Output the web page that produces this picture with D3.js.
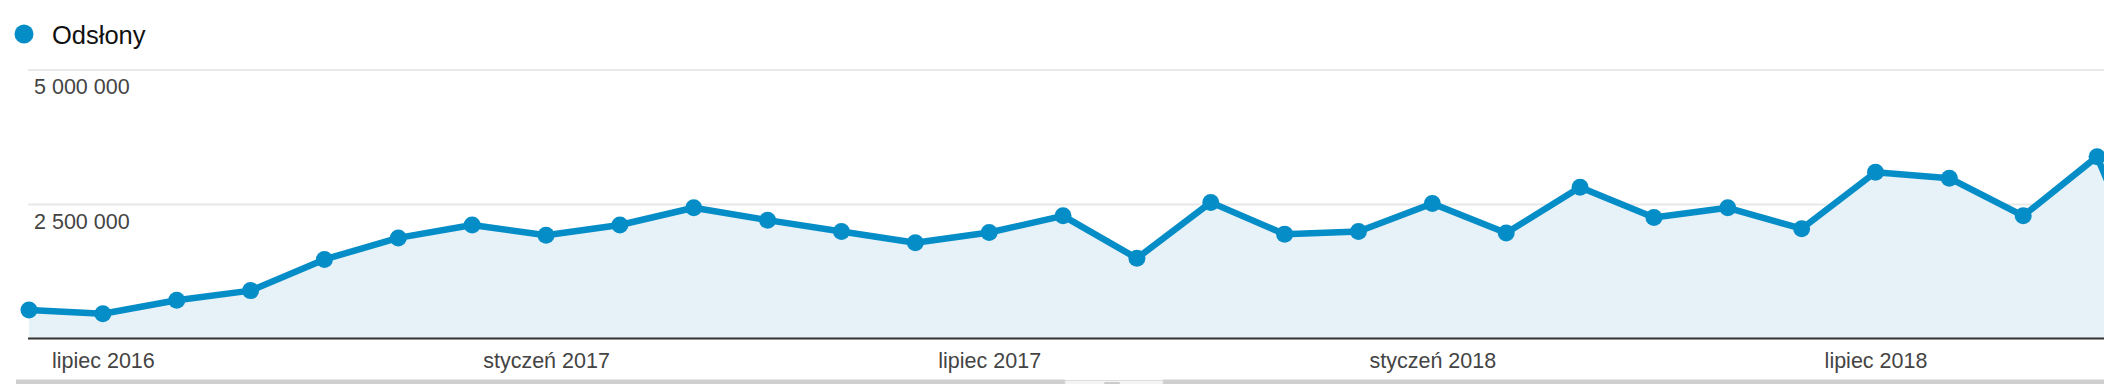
<!DOCTYPE html>
<html>
<head>
<meta charset="utf-8">
<script src="https://cdn.jsdelivr.net/npm/d3@7"></script>
<style>
  html, body { margin: 0; padding: 0; background: #fff; overflow: hidden; }
  svg { display: block; font-family: "Liberation Sans", Arial, sans-serif; }
</style>
</head>
<body>
<svg id="chart" width="2104" height="384"></svg>
<script>
// ---- data ----
const seriesName = "Odsłony";
const months = [
  "2016-06","2016-07","2016-08","2016-09","2016-10","2016-11","2016-12",
  "2017-01","2017-02","2017-03","2017-04","2017-05","2017-06","2017-07",
  "2017-08","2017-09","2017-10","2017-11","2017-12","2018-01","2018-02",
  "2018-03","2018-04","2018-05","2018-06","2018-07","2018-08","2018-09",
  "2018-10","2018-11"
];
const pageviews = [
  530000, 460000, 710000, 890000, 1470000, 1870000, 2110000,
  1920000, 2110000, 2430000, 2200000, 1990000, 1780000, 1970000,
  2280000, 1490000, 2530000, 1940000, 1990000, 2510000, 1960000,
  2810000, 2250000, 2430000, 2040000, 3090000, 2980000, 2280000,
  3380000, 120000
];
const yTickValues = [2500000, 5000000];
const yTickLabels = ["2 500 000", "5 000 000"];
const xTickMonths = ["2016-07","2017-01","2017-07","2018-01","2018-07"];
const xTickLabels = ["lipiec 2016","styczeń 2017","lipiec 2017","styczeń 2018","lipiec 2018"];

// ---- layout ----
const W = 2104, H = 384;
const plotLeft = 28;
const firstX = 29, step = 73.86;
const blue = "#058dc7";

const svg = d3.select("#chart");

const x = d3.scalePoint()
  .domain(months)
  .range([firstX, firstX + step * (months.length - 1)])
  .padding(0);

const y = d3.scaleLinear()
  .domain([0, 5000000])
  .range([338.5, 69.5]);

// gridlines + y labels
const yAxis = d3.axisLeft(y)
  .tickValues(yTickValues)
  .tickSize(-(W - plotLeft))
  .tickFormat((d, i) => yTickLabels[i]);

const gy = svg.append("g")
  .attr("transform", `translate(${plotLeft},0)`)
  .call(yAxis);
gy.select(".domain").remove();
gy.selectAll(".tick line")
  .attr("stroke", "#e8e8e8")
  .attr("stroke-width", 2);
gy.selectAll(".tick text")
  .attr("x", 6)
  .attr("dy", 0)
  .attr("y", 24)
  .attr("text-anchor", "start")
  .attr("fill", "#444")
  .style("font-size", "21.5px")
  .style("font-family", "'Liberation Sans', Arial, sans-serif");

// area
const area = d3.area()
  .x((d, i) => x(months[i]))
  .y0(y(0))
  .y1(d => y(d));
svg.append("path")
  .datum(pageviews)
  .attr("d", area)
  .attr("fill", "#e6f1f8");

// x axis
const xAxis = d3.axisBottom(x)
  .tickValues(xTickMonths)
  .tickSize(0)
  .tickPadding(0)
  .tickFormat((d, i) => xTickLabels[i]);
const gx = svg.append("g")
  .attr("transform", `translate(0,${y(0)})`)
  .call(xAxis);
gx.select(".domain").remove();
gx.selectAll(".tick text")
  .attr("dy", 0)
  .attr("y", 29)
  .attr("fill", "#444")
  .style("font-size", "21.5px")
  .style("font-family", "'Liberation Sans', Arial, sans-serif");

svg.append("line")
  .attr("x1", plotLeft).attr("x2", W)
  .attr("y1", y(0)).attr("y2", y(0))
  .attr("stroke", "#333")
  .attr("stroke-width", 2);

// line
const line = d3.line()
  .x((d, i) => x(months[i]))
  .y(d => y(d));
svg.append("path")
  .datum(pageviews)
  .attr("d", line)
  .attr("fill", "none")
  .attr("stroke", blue)
  .attr("stroke-width", 6.5)
  .attr("stroke-linejoin", "round");

// points
svg.append("g").selectAll("circle")
  .data(pageviews)
  .join("circle")
  .attr("cx", (d, i) => x(months[i]))
  .attr("cy", d => y(d))
  .attr("r", 8.5)
  .attr("fill", blue);

// legend
svg.append("circle")
  .attr("cx", 24).attr("cy", 34).attr("r", 9.5)
  .attr("fill", blue);
svg.append("text")
  .attr("x", 52).attr("y", 44)
  .attr("fill", "#111")
  .style("font-size", "25.5px")
  .text(seriesName);

// bottom UI strip
svg.append("rect")
  .attr("x", 16).attr("y", 379.5).attr("width", 1049).attr("height", 5)
  .attr("fill", "#cfcfcf");
svg.append("rect")
  .attr("x", 1163).attr("y", 379.5).attr("width", W - 1163).attr("height", 5)
  .attr("fill", "#cfcfcf");
svg.append("rect")
  .attr("x", 1065).attr("y", 380.5).attr("width", 98).attr("height", 6)
  .attr("fill", "#f4f4f4").attr("stroke", "#dcdcdc").attr("stroke-width", 1);
svg.append("rect")
  .attr("x", 1104).attr("y", 382).attr("width", 16).attr("height", 3)
  .attr("rx", 1.5)
  .attr("fill", "#cccccc");
</script>
</body>
</html>
